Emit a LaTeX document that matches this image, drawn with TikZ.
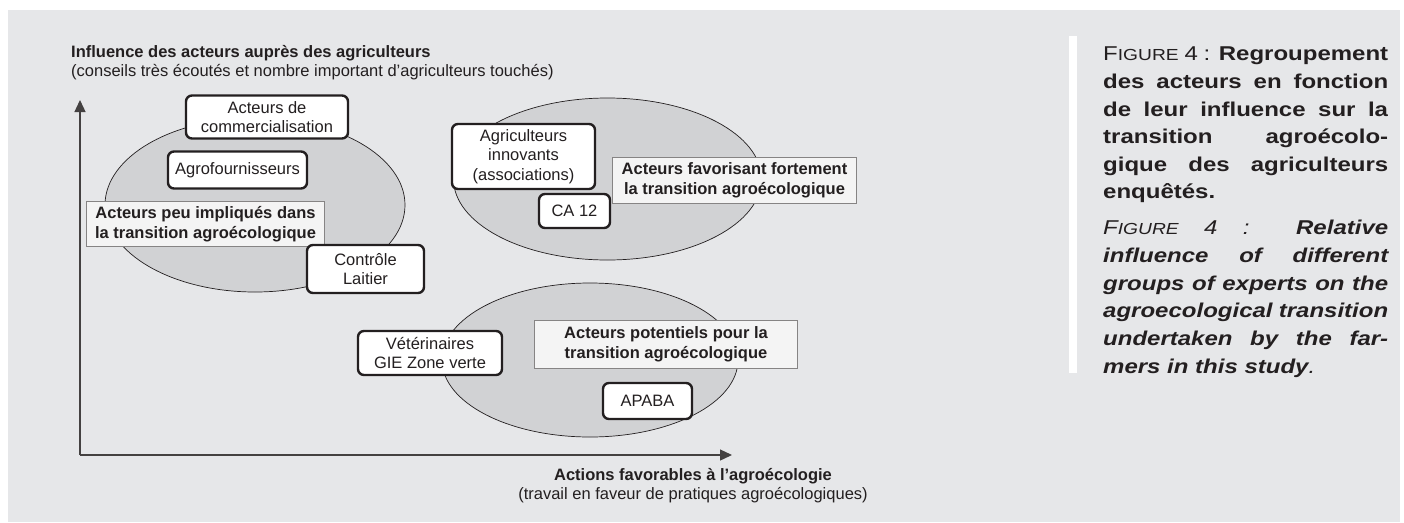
\documentclass[tikz,border=0pt]{standalone}
\usepackage{fontspec}
\setmainfont{Liberation Sans}
\newfontfamily\capfont[FakeStretch=1.2]{Liberation Sans}
\usetikzlibrary{arrows.meta}
\definecolor{bg}{HTML}{E6E7E9}
\definecolor{ell}{HTML}{D1D2D4}
\definecolor{lab}{HTML}{F4F4F4}
\definecolor{ink}{HTML}{231F20}
\newcommand\capsc[1]{{\fontsize{16}{28}\selectfont #1}}
\begin{document}
\begin{tikzpicture}[x=1pt,y=-1pt,
  every node/.style={text=ink, inner sep=0pt},
  font=\fontsize{16.5}{19.5}\selectfont,
  actor/.style={draw=ink, line width=2.4pt, rounded corners=6pt, fill=white, align=center},
  grp/.style={draw=ink!55, line width=0.8pt, fill=lab, align=center, font=\fontsize{16.5}{19.5}\selectfont\bfseries},
  blob/.style={draw=ink, line width=0.7pt, fill=ell},
  axis/.style={draw=ink!85, line width=1.3pt, -{Triangle[length=12pt,width=11pt]}},
  capline/.style={anchor=base west, font=\capfont\fontsize{20}{28}\selectfont}
]
\useasboundingbox (0,0) rectangle (1404,522);
\fill[bg] (8,10) rectangle (1400,522);
\fill[white] (1069,36) rectangle (1077,373);

% axes
\coordinate (O) at (80,455);
\coordinate (ytip) at (80,100);
\coordinate (xtip) at (732,455);
\draw[axis] (O) -- (ytip);
\draw[axis] (O) -- (xtip);

\node[anchor=base west] (ytitle) at (71,57) {\textbf{Influence des acteurs auprès des agriculteurs}};
\node[anchor=base west] (ysub) at (71,76) {(conseils très écoutés et nombre important d’agriculteurs touchés)};
\node[anchor=base] (xtitle) at (693,480) {\textbf{Actions favorables à l’agroécologie}};
\node[anchor=base] (xsub) at (693,499) {(travail en faveur de pratiques agroécologiques)};

% groups
\draw[blob] (255,205) ellipse [x radius=150pt, y radius=87pt];
\draw[blob] (607.5,179) ellipse [x radius=154pt, y radius=81pt];
\draw[blob] (590,360) ellipse [x radius=148pt, y radius=77pt];

\node[actor, minimum width=162pt, minimum height=43pt] (com) at (267,117) {Acteurs de\\commercialisation};
\node[actor, minimum width=139pt, minimum height=37pt] (agro) at (237.5,170) {Agrofournisseurs};
\node[grp, minimum width=238pt, minimum height=45pt] (g1) at (205.5,224) {Acteurs peu impliqués dans\\la transition agroécologique};
\node[actor, minimum width=117pt, minimum height=48pt] (cl) at (365.5,269) {Contrôle\\Laitier};
\node[actor, minimum width=143pt, minimum height=65pt] (ai) at (523.5,156.5) {Agriculteurs\\innovants\\(associations)};
\node[actor, minimum width=71pt, minimum height=34pt] (ca) at (574.5,211) {CA 12};
\node[grp, minimum width=244pt, minimum height=46pt] (g2) at (734.5,180.5) {Acteurs favorisant fortement\\la transition agroécologique};
\node[actor, minimum width=144pt, minimum height=44pt] (vet) at (430,353) {Vétérinaires\\GIE Zone verte};
\node[grp, minimum width=263pt, minimum height=48pt] (g3) at (666,344.5) {Acteurs potentiels pour la\\transition agroécologique};
\node[actor, minimum width=89pt, minimum height=36pt] (apaba) at (647.5,401) {APABA};

% caption
\node[capline] (c1) at (1103,60.5) {\makebox[285pt][s]{F\capsc{IGURE} 4 : \textbf{Regroupement}}};
\node[capline] (c2) at (1103,88) {\makebox[285pt][s]{\textbf{des acteurs en fonction}}};
\node[capline] (c3) at (1103,116) {\makebox[285pt][s]{\textbf{de leur influence sur la}}};
\node[capline] (c4) at (1103,143.5) {\makebox[285pt][s]{\textbf{transition agroécolo-}}};
\node[capline] (c5) at (1103,171) {\makebox[285pt][s]{\textbf{gique des agriculteurs}}};
\node[capline] (c6) at (1103,198.5) {\textbf{enquêtés.}};
\node[capline] (c7) at (1103,234) {\makebox[285pt][s]{\itshape F\capsc{IGURE} 4 : \textbf{Relative}}};
\node[capline] (c8) at (1103,262) {\makebox[285pt][s]{\itshape\bfseries influence of different}};
\node[capline] (c9) at (1103,290) {\makebox[285pt][s]{\itshape\bfseries groups of experts on the}};
\node[capline] (c10) at (1103,317.5) {\makebox[285pt][s]{\itshape\bfseries agroecological transition}};
\node[capline] (c11) at (1103,345) {\makebox[285pt][s]{\itshape\bfseries undertaken by the far-}};
\node[capline] (c12) at (1103,373) {\itshape\bfseries mers in this study\mdseries.};
\end{tikzpicture}
\end{document}
